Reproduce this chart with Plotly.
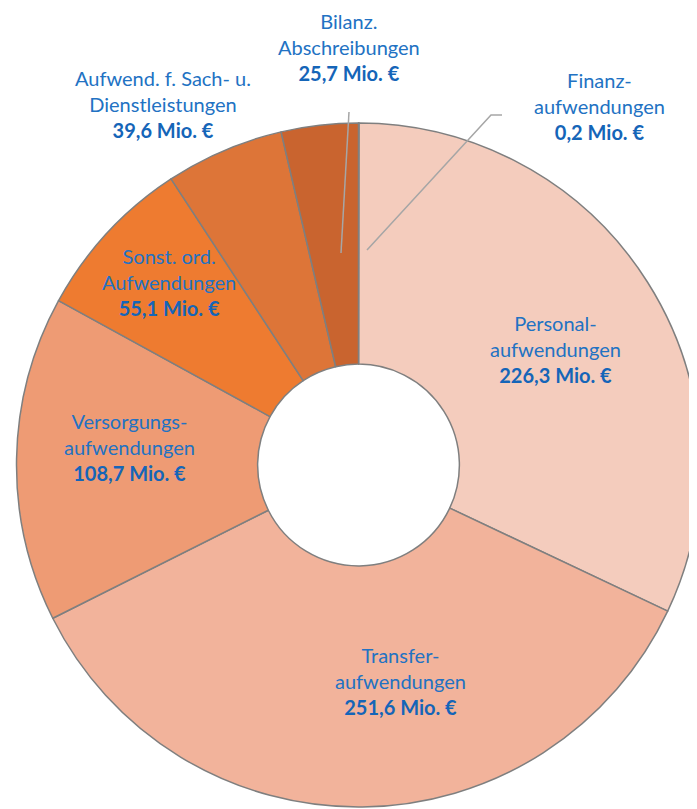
import plotly.graph_objects as go

# ---- data ----
categories = [
    "Finanz-<br>aufwendungen",
    "Personal-<br>aufwendungen",
    "Transfer-<br>aufwendungen",
    "Versorgungs-<br>aufwendungen",
    "Sonst. ord.<br>Aufwendungen",
    "Aufwend. f. Sach- u.<br>Dienstleistungen",
    "Bilanz.<br>Abschreibungen",
]
values = [0.2, 226.3, 251.6, 108.7, 55.1, 39.6, 25.7]
colors = ["#F9DCCF", "#F4CCBD", "#F2B39B", "#EE9B74", "#EE7B30", "#DD7538", "#C9642F"]

# label positions (pixel coords in the 697x809 canvas)
label_pos = [(591, 98), (547, 341), (392, 673), (121, 439), (161, 274), (155, 96), (341, 39)]

W, H = 697, 809

def fmt(v):
    return f"{v:.1f}".replace(".", ",") + " Mio. €"

fig = go.Figure()
fig.add_trace(go.Pie(
    labels=[c.replace("<br>", " ") for c in categories],
    values=values,
    sort=False,
    direction="clockwise",
    rotation=0,
    hole=0.295,
    marker=dict(colors=colors, line=dict(color="#7F7F7F", width=1.5)),
    textinfo="none",
    hoverinfo="skip",
    showlegend=False,
    domain=dict(x=[8.5 / W, 692.5 / W], y=[1 - 799 / H, 1 - 115 / H]),
))

annotations = []
for cat, v, (px, py) in zip(categories, values, label_pos):
    annotations.append(dict(
        x=px / W, y=1 - py / H, xref="paper", yref="paper",
        text=f"{cat}<br><b><span style='color:#1565B8'>{fmt(v)}</span></b>",
        showarrow=False, align="center", xanchor="center", yanchor="middle",
        font=dict(family="Lato", size=20, color="#2272C3"),
    ))

# leader lines
def P(x, y):
    return x / W, 1 - y / H

shapes = []
x0, y0 = P(341, 104); x1, y1 = P(333, 245)
shapes.append(dict(type="line", xref="paper", yref="paper", x0=x0, y0=y0, x1=x1, y1=y1,
                   line=dict(color="#A6A6A6", width=1.5)))
pts = [P(494, 107), P(483, 107), P(359, 242)]
path = "M {} {} L {} {} L {} {}".format(pts[0][0], pts[0][1], pts[1][0], pts[1][1], pts[2][0], pts[2][1])
shapes.append(dict(type="path", xref="paper", yref="paper", path=path,
                   line=dict(color="#A6A6A6", width=1.5)))

fig.update_layout(
    width=W, height=H,
    margin=dict(l=0, r=0, t=0, b=0),
    paper_bgcolor="white", plot_bgcolor="white",
    annotations=annotations, shapes=shapes,
)
fig.write_html("out.html")
